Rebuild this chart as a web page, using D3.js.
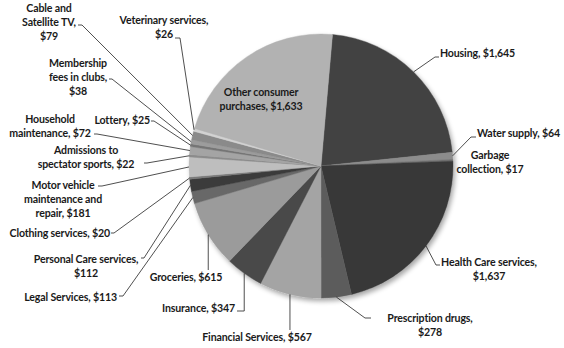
<!DOCTYPE html>
<html>
<head>
<meta charset="utf-8">
<script src="https://cdn.jsdelivr.net/npm/d3@7"></script>
<style>
  body { margin: 0; background: #fff; }
  text { font-family: Lato, "Open Sans", sans-serif; font-weight: 700; font-size: 10.6px; letter-spacing: -0.15px; fill: #1a1a1a; }
</style>
</head>
<body>
<div id="viz"></div>
<script>
// slices, clockwise from just right of 12 o'clock
const categories = [
  'Housing', 'Water supply', 'Garbage collection', 'Health Care services',
  'Prescription drugs', 'Financial Services', 'Insurance', 'Groceries',
  'Legal Services', 'Personal Care services', 'Clothing services',
  'Motor vehicle maintenance and repair', 'Admissions to spectator sports',
  'Household maintenance', 'Lottery', 'Membership fees in clubs',
  'Cable and Satellite TV', 'Veterinary services', 'Other consumer purchases'
];
const values = [1645, 64, 17, 1637, 278, 567, 347, 615, 113, 112, 20, 181, 22, 72, 25, 38, 79, 26, 1633];
const labelLines = [
  ['Housing, $1,645'], ['Water supply, $64'], ['Garbage', 'collection, $17'],
  ['Health Care services,', '$1,637'], ['Prescription drugs,', '$278'],
  ['Financial Services, $567'], ['Insurance, $347'], ['Groceries, $615'],
  ['Legal Services, $113'], ['Personal Care services,', '$112'], ['Clothing services, $20'],
  ['Motor vehicle', 'maintenance and', 'repair, $181'], ['Admissions to', 'spectator sports, $22'],
  ['Household', 'maintenance, $72'], ['Lottery, $25'], ['Membership', 'fees in clubs,', '$38'],
  ['Cable and', 'Satellite TV,', '$79'], ['Veterinary services,', '$26'], ['Other consumer', 'purchases, $1,633']
];
const greys = ['#434343', '#8c8c8c', '#6e6e6e', '#373737', '#5c5c5c', '#a4a4a4', '#484848', '#9b9b9b',
  '#686868', '#3b3b3b', '#7a7a7a', '#bebebe', '#8c8c8c', '#a4a4a4', '#747474', '#9c9c9c', '#8a8a8a', '#d2d2d2', '#b2b2b2'];

// label placement: text x/y (y = middle of first line), anchor, leader end point and stub
const layout = [
  { x: 440, y: 53, anchor: 'start', end: [435, 57], stub: 439 },
  { x: 477, y: 133, anchor: 'start', end: [471, 137], stub: 476 },
  { x: 490, y: 155, anchor: 'middle' },
  { x: 489, y: 262, anchor: 'middle', end: [436, 265], stub: 440 },
  { x: 430, y: 318, anchor: 'middle', end: [365, 318], stub: 371 },
  { x: 257, y: 337, anchor: 'middle', end: [null, 330] },
  { x: 235, y: 308, anchor: 'end', end: [null, 311], stub: 237 },
  { x: 186, y: 277, anchor: 'middle', end: [null, 270] },
  { x: 117, y: 297, anchor: 'end', end: [123, 296], stub: 119 },
  { x: 86, y: 259, anchor: 'middle', end: [144, 258], stub: 141 },
  { x: 110, y: 233, anchor: 'end', end: [114, 233], stub: 111 },
  { x: 63, y: 185, anchor: 'middle', end: [102, 186], stub: 98 },
  { x: 86, y: 150, anchor: 'middle', end: [147, 163], stub: 144 },
  { x: 50, y: 119, anchor: 'middle', end: [97, 134], stub: 94 },
  { x: 150, y: 120, anchor: 'end', end: [154, 121], stub: 151 },
  { x: 78, y: 63, anchor: 'middle', end: [112, 79], stub: 109 },
  { x: 49, y: 8, anchor: 'middle', end: [82, 25], stub: 78 },
  { x: 164, y: 20, anchor: 'middle', end: [180, 38], stub: 175 },
  { x: 261, y: 92, anchor: 'middle' }
];

const width = 564, height = 348;
const cx = 321, cy = 166, radius = 132;
const lineH = 14;

const svg = d3.select('#viz').append('svg')
  .attr('width', width)
  .attr('height', height);

const defs = svg.append('defs');
const shadow = defs.append('filter').attr('id', 'shadow')
  .attr('x', '-20%').attr('y', '-20%').attr('width', '140%').attr('height', '140%');
shadow.append('feGaussianBlur').attr('in', 'SourceAlpha').attr('stdDeviation', 2.5);
shadow.append('feOffset').attr('dx', 2).attr('dy', 3).attr('result', 'blur');
shadow.append('feComponentTransfer').append('feFuncA').attr('type', 'linear').attr('slope', 0.35);
const merge = shadow.append('feMerge');
merge.append('feMergeNode');
merge.append('feMergeNode').attr('in', 'SourceGraphic');

const data = categories.map((c, i) => ({ category: c, value: values[i], lines: labelLines[i], color: greys[i], lay: layout[i] }));

const pie = d3.pie()
  .sort(null)
  .value(d => d.value)
  .startAngle(5 * Math.PI / 180)
  .endAngle(365 * Math.PI / 180);

const arc = d3.arc().innerRadius(0).outerRadius(radius);
const arcs = pie(data);

const g = svg.append('g').attr('transform', `translate(${cx},${cy})`);

g.append('g')
  .attr('filter', 'url(#shadow)')
  .selectAll('path')
  .data(arcs)
  .join('path')
    .attr('d', arc)
    .attr('fill', d => d.data.color)
    .attr('stroke', d => d.data.color)
    .attr('stroke-width', 0.4);

// leader lines
function edgePoint(d) {
  const a = (d.startAngle + d.endAngle) / 2;
  return [cx + radius * Math.sin(a), cy - radius * Math.cos(a)];
}

svg.append('g')
  .selectAll('polyline')
  .data(arcs.filter(d => d.data.lay.end))
  .join('polyline')
    .attr('fill', 'none')
    .attr('stroke', '#222')
    .attr('stroke-width', 0.8)
    .attr('points', d => {
      const e = edgePoint(d);
      const lay = d.data.lay;
      const end = [lay.end[0] == null ? e[0] : lay.end[0], lay.end[1]];
      const pts = [e, end];
      if (lay.stub != null) pts.push([lay.stub, end[1]]);
      return pts.map(p => p.join(',')).join(' ');
    });

// labels
const labels = svg.append('g')
  .selectAll('text')
  .data(data)
  .join('text')
    .attr('text-anchor', d => d.lay.anchor)
    .attr('transform', d => `translate(${d.lay.x},${d.lay.y})`);

labels.selectAll('tspan')
  .data(d => d.lines)
  .join('tspan')
    .attr('x', 0)
    .attr('y', (l, i) => i * lineH)
    .attr('dy', '0.35em')
    .text(l => l);
</script>
</body>
</html>
